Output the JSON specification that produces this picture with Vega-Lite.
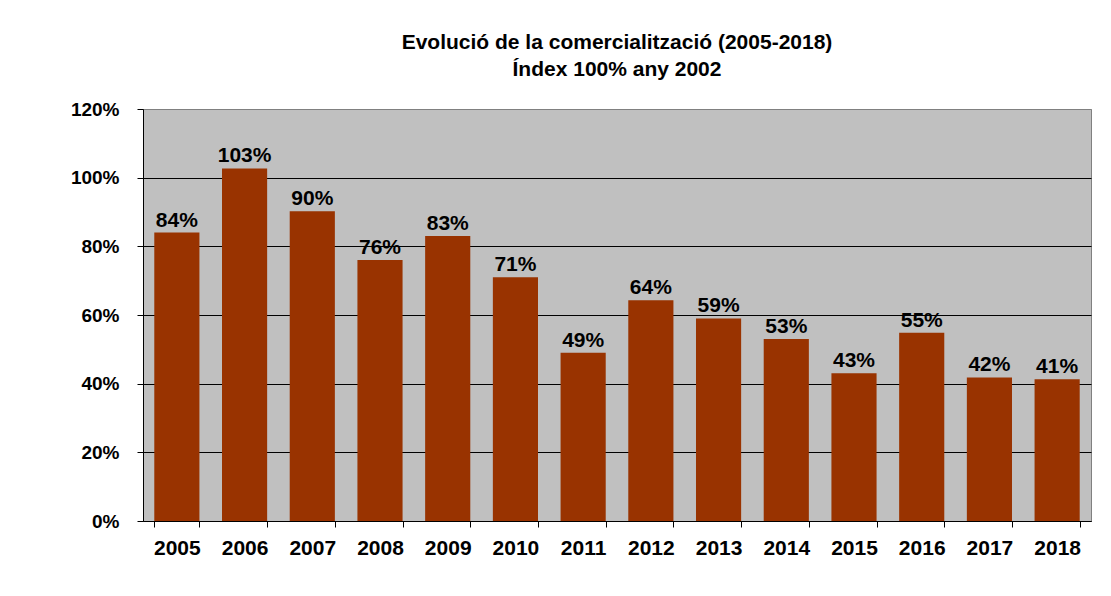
{
  "$schema": "https://vega.github.io/schema/vega-lite/v6.json",
  "width": 948,
  "height": 412,
  "autosize": {"type": "none"},
  "padding": {"left": 143, "top": 109, "right": 20, "bottom": 75},
  "background": "white",
  "title": {
    "text": ["Evolució de la comercialització (2005-2018)", "Índex 100% any 2002"],
    "font": "Liberation Sans",
    "fontSize": 21,
    "fontWeight": "bold",
    "color": "black",
    "lineHeight": 27,
    "anchor": "middle",
    "offset": 20
  },
  "data": {
    "values": [
      {"year": "2005", "value": 0.84},
      {"year": "2006", "value": 1.027},
      {"year": "2007", "value": 0.902},
      {"year": "2008", "value": 0.76},
      {"year": "2009", "value": 0.83},
      {"year": "2010", "value": 0.71},
      {"year": "2011", "value": 0.49},
      {"year": "2012", "value": 0.643},
      {"year": "2013", "value": 0.59},
      {"year": "2014", "value": 0.53},
      {"year": "2015", "value": 0.43},
      {"year": "2016", "value": 0.548},
      {"year": "2017", "value": 0.418},
      {"year": "2018", "value": 0.413}
    ]
  },
  "encoding": {
    "x": {
      "field": "year",
      "type": "nominal",
      "sort": null,
      "scale": {"paddingInner": 0.3333, "paddingOuter": 0.1667},
      "axis": {
        "title": null,
        "labelAngle": 0,
        "labelFont": "Liberation Sans",
        "labelFontSize": 21,
        "labelFontWeight": "bold",
        "labelColor": "black",
        "labelPadding": 10,
        "tickBand": "extent",
        "tickSize": 6,
        "tickColor": "black",
        "domainColor": "black",
        "grid": false
      }
    },
    "y": {
      "field": "value",
      "type": "quantitative",
      "scale": {"domain": [0, 1.2], "nice": false},
      "axis": {
        "title": null,
        "values": [0, 0.2, 0.4, 0.6, 0.8, 1.0, 1.2],
        "format": ".0%",
        "labelFont": "Liberation Sans",
        "labelFontSize": 19,
        "labelFontWeight": "bold",
        "labelColor": "black",
        "labelPadding": 18,
        "tickSize": 6,
        "tickColor": "black",
        "domainColor": "black",
        "grid": true,
        "gridColor": {"condition": {"test": "datum.value >= 1.2", "value": "#808080"}, "value": "black"},
        "gridOpacity": 1,
        "gridWidth": 1
      }
    }
  },
  "layer": [
    {"mark": {"type": "bar", "color": "#993300"}},
    {
      "mark": {
        "type": "text",
        "baseline": "alphabetic",
        "dy": -6,
        "font": "Liberation Sans",
        "fontSize": 21,
        "fontWeight": "bold",
        "color": "black"
      },
      "encoding": {"text": {"field": "value", "type": "quantitative", "format": ".0%"}}
    }
  ],
  "config": {
    "view": {"fill": "#c0c0c0", "stroke": "#808080", "strokeWidth": 1}
  }
}
